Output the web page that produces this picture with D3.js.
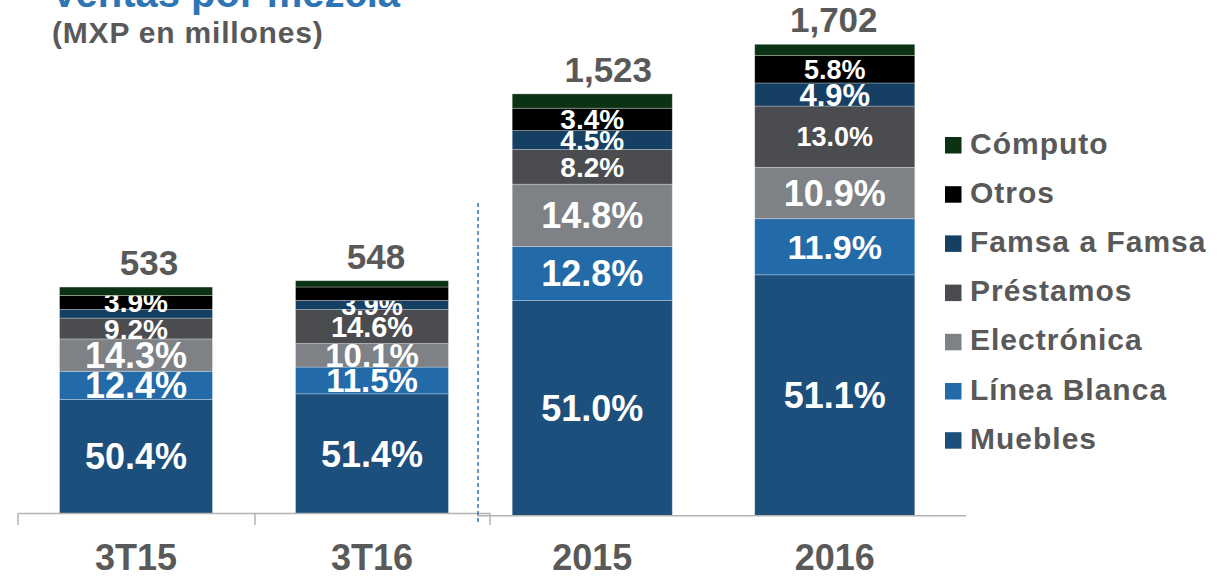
<!DOCTYPE html>
<html>
<head>
<meta charset="utf-8">
<script src="https://cdnjs.cloudflare.com/ajax/libs/d3/7.8.5/d3.min.js"></script>
<style>
  html, body { margin: 0; padding: 0; background: #fff; }
  svg { display: block; font-family: "Liberation Sans", Arial, sans-serif; font-weight: bold; }
</style>
</head>
<body>
<svg id="root" width="1221" height="577"></svg>
<script>
// data
const categories = ["3T15", "3T16", "2015", "2016"];
const totals = [533, 548, 1523, 1702];
const totalLabels = ["533", "548", "1,523", "1,702"];

// stack order, bottom to top
const seriesNames = ["Muebles", "Línea Blanca", "Electrónica", "Préstamos", "Famsa a Famsa", "Otros", "Cómputo"];
const muebles = [50.4, 51.4, 51.0, 51.1];
const lineaBlanca = [12.4, 11.5, 12.8, 11.9];
const electronica = [14.3, 10.1, 14.8, 10.9];
const prestamos = [9.2, 14.6, 8.2, 13.0];
const famsaAFamsa = [3.8, 3.9, 4.5, 4.9];
const otros = [6.2, 5.8, 5.3, 5.8];
const computo = [3.7, 2.7, 3.4, 2.4];

// labels as printed on the segments (null = no label)
const mueblesLabels = ["50.4%", "51.4%", "51.0%", "51.1%"];
const lineaBlancaLabels = ["12.4%", "11.5%", "12.8%", "11.9%"];
const electronicaLabels = ["14.3%", "10.1%", "14.8%", "10.9%"];
const prestamosLabels = ["9.2%", "14.6%", "8.2%", "13.0%"];
const famsaLabels = [null, "3.9%", "4.5%", "4.9%"];
const otrosLabels = ["3.9%", null, "3.4%", "5.8%"];
const computoLabels = [null, null, null, null];

const seriesValues = [muebles, lineaBlanca, electronica, prestamos, famsaAFamsa, otros, computo];
const seriesLabels = [mueblesLabels, lineaBlancaLabels, electronicaLabels, prestamosLabels, famsaLabels, otrosLabels, computoLabels];

// styles
const colors = ["#1D4F7C", "#236AA8", "#7E8286", "#4A4C4F", "#163F64", "#000000", "#0B3213"];
const grey = "#595959";
const sizeOverride = {
  "3T16|Línea Blanca": 33, "3T16|Electrónica": 33, "3T16|Préstamos": 29, "3T16|Famsa a Famsa": 27,
  "2016|Préstamos": 27, "2016|Línea Blanca": 34, "2016|Famsa a Famsa": 31, "2016|Otros": 27
};
// the totals sit a little off-centre in the original
const totalNudge = [13, 4, 16, -1];

let svg = d3.select("#root");

// title (cut off by the top edge in the original)
svg.append("text")
  .attr("x", 51).attr("y", 7)
  .style("font-size", "40px").style("fill", "#2E75B6")
  .text("Ventas por mezcla");

svg.append("text")
  .attr("x", 52).attr("y", 43)
  .style("font-size", "30px").style("fill", grey).style("letter-spacing", "0.8px")
  .text("(MXP en millones)");

// two panels with their own scales
let panels = [
  { cats: categories.slice(0, 2), xRange: [18, 490], base: 513.5, top: 280.7 },
  { cats: categories.slice(2), xRange: [471, 956], base: 515.7, top: 44.3 }
];

panels.forEach((p, pi) => {
  let x = d3.scaleBand()
    .domain(p.cats)
    .range(p.xRange)
    .paddingInner(pi === 0 ? 0.352 : 0.34)
    .paddingOuter(pi === 0 ? 0.176 : 0.17);

  let maxTotal = d3.max(p.cats, c => totals[categories.indexOf(c)]);
  let y = d3.scaleLinear().domain([0, maxTotal]).range([p.base, p.top]);

  let g = svg.append("g");

  p.cats.forEach(cat => {
    let ci = categories.indexOf(cat);
    let total = totals[ci];
    let cum = 0;

    seriesNames.forEach((name, si) => {
      let share = seriesValues[si][ci];
      let y0 = y(cum * total / 100);
      let y1 = y((cum + share) * total / 100);
      cum += share;

      g.append("rect")
        .attr("x", x(cat))
        .attr("width", x.bandwidth())
        .attr("y", y1)
        .attr("height", y0 - y1)
        .style("fill", colors[si])
        .style("stroke", "rgba(255,255,255,0.35)")
        .style("stroke-width", 0.8);

      let lbl = seriesLabels[si][ci];
      if (lbl) {
        let size = sizeOverride[cat + "|" + name] || (share >= 10 ? 36 : 28);
        g.append("text")
          .attr("x", x(cat) + x.bandwidth() / 2)
          .attr("y", (y0 + y1) / 2 + size * 0.358)
          .attr("text-anchor", "middle")
          .style("font-size", size + "px")
          .style("fill", "#fff")
          .text(lbl);
      }
    });

    // total on top
    g.append("text")
      .attr("x", x(cat) + x.bandwidth() / 2 + totalNudge[ci])
      .attr("y", y(total) - 12)
      .attr("text-anchor", "middle")
      .style("font-size", "35px")
      .style("fill", grey)
      .text(totalLabels[ci]);

    // category label
    g.append("text")
      .attr("x", x(cat) + x.bandwidth() / 2)
      .attr("y", 570)
      .attr("text-anchor", "middle")
      .style("font-size", "36px")
      .style("fill", grey)
      .text(cat);
  });
});

// axes
svg.append("line")
  .attr("x1", 18).attr("x2", 490).attr("y1", 513.5).attr("y2", 513.5)
  .style("stroke", "#B3B3B3").style("stroke-width", 1.5);
[18, 255, 490].forEach(t => {
  svg.append("line")
    .attr("x1", t).attr("x2", t).attr("y1", 513.5).attr("y2", 525)
    .style("stroke", "#B3B3B3").style("stroke-width", 1.5);
});
svg.append("line")
  .attr("x1", 477).attr("x2", 966).attr("y1", 515.7).attr("y2", 515.7)
  .style("stroke", "#B3B3B3").style("stroke-width", 1.5);

// dashed separator
svg.append("line")
  .attr("x1", 478).attr("x2", 478).attr("y1", 203).attr("y2", 522)
  .style("stroke", "#2E75B6").style("stroke-width", 1.5)
  .style("stroke-dasharray", "4,3");

// legend, top to bottom reverses the stack
let legendItems = seriesNames.map((n, i) => ({ name: n, color: colors[i] })).reverse();
let legend = svg.append("g").attr("transform", "translate(945,137)");
legendItems.forEach((d, i) => {
  let row = legend.append("g").attr("transform", `translate(0,${i * 49.2})`);
  row.append("rect")
    .attr("width", 16.5).attr("height", 16.5)
    .style("fill", d.color);
  row.append("text")
    .attr("x", 25).attr("y", 16.5)
    .style("font-size", "30px")
    .style("letter-spacing", "1px")
    .style("fill", grey)
    .text(d.name);
});
</script>
</body>
</html>
